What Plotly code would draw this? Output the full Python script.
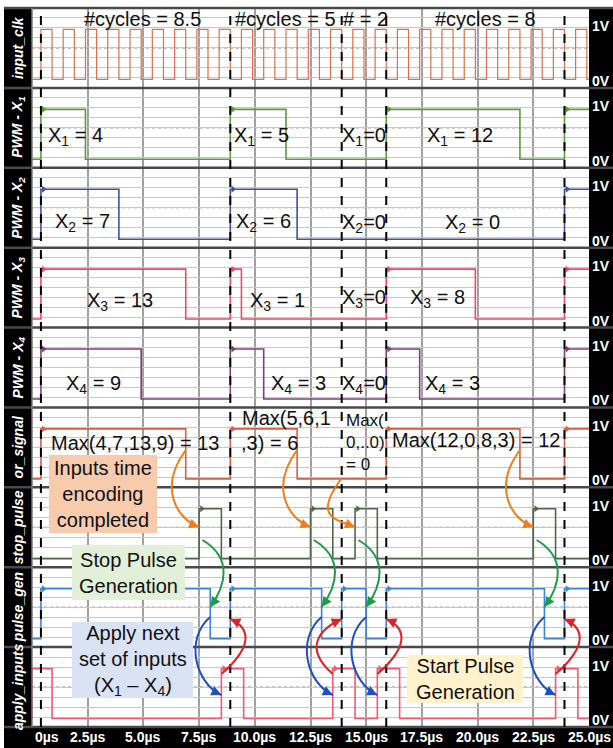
import plotly.graph_objects as go
from plotly.subplots import make_subplots

FONT = "Liberation Sans, Arial, sans-serif"

# ---------------- data ----------------
signal_labels = ["input_clk", "PWM - X<sub>1</sub>", "PWM - X<sub>2</sub>", "PWM - X<sub>3</sub>",
                 "PWM - X<sub>4</sub>", "or_signal", "stop_pulse", "pulse_gen", "apply_inputs"]
signal_colors = ["#d9714f", "#5b9b3a", "#41509c", "#f0476a", "#7b3f7f",
                 "#d4604a", "#50684a", "#3d84d6", "#f25c6e"]
cycle_start_us = [0.4, 8.9, 13.9, 15.9, 23.9]
x1_values = [4, 5, 0, 12]
x2_values = [7, 6, 0, 0]
x3_values = [13, 1, 0, 8]
x4_values = [9, 3, 0, 3]
us_per_count = 0.5
clk_rise_us = [0.4, 1.4, 2.4, 3.4, 4.4, 5.4, 6.4, 7.4, 8.4, 9.4, 10.4, 11.4, 12.4,
               13.4, 14.4, 15.4, 16.4, 17.4, 18.4, 19.4, 20.4, 21.4, 22.4, 23.4, 24.4]
clk_high_us = 0.5
stop_pulse_us = [(7.5, 8.5), (12.5, 13.5), (14.5, 15.5), (22.5, 23.5)]
pulse_gen_fall_us = [8.0, 13.0, 15.0, 23.0]
apply_inputs_us = [(0.0, 0.9), (8.5, 9.5), (13.5, 14.5), (15.5, 16.5), (23.5, 24.5)]
time_ticks_us = [0, 2.5, 5.0, 7.5, 10.0, 12.5, 15.0, 17.5, 20.0, 22.5, 25.0]
time_tick_labels = ["0µs", "2.5µs", "5.0µs", "7.5µs", "10.0µs", "12.5µs",
                    "15.0µs", "17.5µs", "20.0µs", "22.5µs", "25.0µs"]
t_end = 25.0

# ---------------- geometry helpers (page pixels) ----------------
W, H = 613, 748
X0, X1, Y0, Y1 = 32, 589, 8, 727          # plot area in page pixels
ML, MR, MT, MB = X0, W - X1, Y0, H - Y1
PW, PH = X1 - X0, Y1 - Y0


def pxx(px):
    return (px - X0) / PW


def pxy(py):
    return (Y1 - py) / PH


def dt(dpx):
    return dpx * t_end / PW


# ---------------- build signals ----------------
def pwm(values):
    iv = [(s, s + us_per_count * v) for s, v in zip(cycle_start_us, values) if v > 0]
    iv.append((cycle_start_us[-1], t_end))
    return iv


max_values = [max(a, b, c, d) for a, b, c, d in zip(x1_values, x2_values, x3_values, x4_values)]
signals = [
    [(r, r + clk_high_us) for r in clk_rise_us],
    pwm(x1_values), pwm(x2_values), pwm(x3_values), pwm(x4_values),
    pwm(max_values),
    stop_pulse_us,
    [(cycle_start_us[i], pulse_gen_fall_us[i]) for i in range(4)] + [(cycle_start_us[4], t_end)],
    apply_inputs_us,
]


def step_xy(intervals):
    xs, ys = [0.0], [0]
    for a, b in intervals:
        xs += [a, min(b, t_end)]
        ys += [1, 0 if b < t_end else 1]
    if xs[-1] < t_end:
        xs.append(t_end)
        ys.append(ys[-1])
    return xs, ys


NR = 9
fig = make_subplots(rows=NR, cols=1, shared_xaxes=True, vertical_spacing=0)
for i, iv in enumerate(signals):
    xs, ys = step_xy(iv)
    fig.add_trace(go.Scatter(x=xs, y=ys, mode="lines", line=dict(color=signal_colors[i],
                             width=1.2 if i == 0 else 1.6, shape="hv"),
                             hoverinfo="skip"), row=i + 1, col=1)
    if i > 0:
        rx = [a + 0.12 for a, b in iv if a > 0]
        fig.add_trace(go.Scatter(x=rx, y=[1] * len(rx), mode="markers",
                                 marker=dict(symbol="triangle-right", size=6, color=signal_colors[i]),
                                 hoverinfo="skip"), row=i + 1, col=1)

fig.update_xaxes(range=[0, t_end], tick0=0, dtick=2.5, showgrid=True, gridcolor="#a0a0a0",
                 gridwidth=1.6, showticklabels=False, zeroline=False, ticks="")
fig.update_yaxes(range=[-0.17, 1.43], tick0=0.03, dtick=0.2, showgrid=True, gridcolor="#c8c8c8",
                 gridwidth=1, showticklabels=False, zeroline=False, ticks="")

shapes = []
annotations = []


def note(text, x, y, size=20, color="#111111", **kw):
    d = dict(text=text, xref="paper", yref="paper", x=x, y=y, showarrow=False,
             xanchor="center", yanchor="middle", font=dict(size=size, color=color, family=FONT))
    d.update(kw)
    annotations.append(d)


# white page border (top / left)
shapes.append(dict(type="rect", xref="paper", yref="paper", x0=pxx(-2), x1=pxx(W + 2),
                   y0=pxy(Y0), y1=pxy(-2), fillcolor="white", line=dict(width=0), layer="above"))
shapes.append(dict(type="rect", xref="paper", yref="paper", x0=pxx(-2), x1=pxx(4),
                   y0=pxy(H + 2), y1=pxy(-2), fillcolor="white", line=dict(width=0), layer="above"))

# center dotted lines per row
for r in range(1, NR + 1):
    ya = "y" if r == 1 else f"y{r}"
    shapes.append(dict(type="line", xref="paper", yref=ya, x0=0, x1=1, y0=0.63, y1=0.63,
                       line=dict(color="#777777", width=1, dash="dot"), layer="below"))

# row separators
for k in range(0, NR + 1):
    shapes.append(dict(type="line", xref="paper", yref="paper", x0=pxx(4), x1=pxx(W),
                       y0=k / NR, y1=k / NR, line=dict(color="#4a4a4a", width=2.5)))
shapes.append(dict(type="line", xref="paper", yref="paper", x0=0, x1=0, y0=0, y1=1,
                   line=dict(color="#7a7a7a", width=1.5)))

# dashed cycle boundaries
for t in cycle_start_us:
    shapes.append(dict(type="line", xref="x", yref="paper", x0=t, x1=t, y0=0, y1=1,
                       line=dict(color="black", width=2, dash="dash")))

# left labels, right 1V/0V labels
for r in range(1, NR + 1):
    yc = 1 - (r - 0.5) / NR
    note(f"<b><i>{signal_labels[r - 1]}</i></b>", pxx(18), yc, size=14, color="white", textangle=-90)
    ya = "y" if r == 1 else f"y{r}"
    note("<b>1V</b>", pxx(601), 1.06, size=14, color="white", yref=ya)
    note("<b>0V</b>", pxx(601), -0.03, size=14, color="white", yref=ya)

# bottom time labels
for j, (tv, tl) in enumerate(zip(time_ticks_us, time_tick_labels)):
    note(f"<b>{tl}</b>", tv, pxy(737), size=14, color="white", xref="x",
         xanchor="left" if j == 0 else "center", xshift=1 if j == 0 else 0)

# text labels
texts = [
    ("#cycles = 8.5", 142, 19), ("#cycles = 5", 285, 19), ("# = 2", 365, 19), ("#cycles = 8", 485, 19),
    ("X<sub>1</sub> = 4", 75, 137), ("X<sub>1</sub> = 5", 261, 137), ("X<sub>1</sub>=0", 364, 137),
    ("X<sub>1</sub> = 12", 460, 137),
    ("X<sub>2</sub> = 7", 82, 223), ("X<sub>2</sub> = 6", 263, 223), ("X<sub>2</sub>=0", 364, 224),
    ("X<sub>2</sub> = 0", 472, 224),
    ("X<sub>3</sub> = 13", 120, 301), ("X<sub>3</sub> = 1", 277, 301), ("X<sub>3</sub>=0", 364, 299),
    ("X<sub>3</sub> = 8", 437, 299),
    ("X<sub>4</sub> = 9", 93, 385), ("X<sub>4</sub> = 3", 298, 385), ("X<sub>4</sub>=0", 364, 385),
    ("X<sub>4</sub> = 3", 452, 385),
    ("Max(4,7,13,9) = 13", 135, 443), ("Max(5,6,1", 286, 418), (",3) = 6", 269, 443),
    ("Max(12,0,8,3) = 12", 476, 440),
]
for tx, x, y in texts:
    note(tx, pxx(x), pxy(y))
note("Max(<br>0,..0)<br>= 0", pxx(344), pxy(442), size=17, xanchor="left", align="left")

# callout boxes
boxes = [
    ("Inputs time<br>encoding<br>completed", (49, 455, 157, 533), "#f8cbad"),
    ("Stop Pulse<br>Generation", (72, 545, 185, 600), "#e2efd9"),
    ("Apply next<br>set of inputs<br>(X<sub>1</sub> – X<sub>4</sub>)", (72, 622, 193, 698), "#dae3f3"),
    ("Start Pulse<br>Generation", (407, 655, 523, 703), "#fff2cc"),
]
for tx, (bx0, by0, bx1, by1), col in boxes:
    shapes.append(dict(type="rect", xref="paper", yref="paper", x0=pxx(bx0), x1=pxx(bx1), y0=pxy(by1),
                       y1=pxy(by0), fillcolor=col, line=dict(width=0), layer="above"))
    note(tx, pxx((bx0 + bx1) / 2), pxy((by0 + by1) / 2), size=20)


# curved arrows linked to signal events
def curve(t0, py0, t1, py1, c1, c2, color):
    p = (f"M {t0},{pxy(py0)} C {t0 + dt(c1[0])},{pxy(py0 + c1[1])} "
         f"{t1 + dt(c2[0])},{pxy(py1 + c2[1])} {t1},{pxy(py1)}")
    shapes.append(dict(type="path", xref="x", yref="paper", path=p, line=dict(color=color, width=2)))
    n = (c2[0] ** 2 + c2[1] ** 2) ** 0.5
    annotations.append(dict(text="", xref="x", yref="paper", x=t1, y=pxy(py1), showarrow=True,
                            ax=c2[0] / n * 9, ay=c2[1] / n * 9, arrowhead=2, arrowsize=1,
                            arrowwidth=2, arrowcolor=color, standoff=0))


red_side = [1, -1, 1, 1]
for k in range(4):
    or_fall = cycle_start_us[k] + us_per_count * max_values[k]
    curve(or_fall, 450 if max_values[k] > 0 else 478, stop_pulse_us[k][0], 527,
          (-28, 38), (-22, -8), "#f07d1a")
    curve(stop_pulse_us[k][0] + 0.15, 540, pulse_gen_fall_us[k], 607, (30, 18), (16, -22), "#1f9a48")
    curve(pulse_gen_fall_us[k], 617, apply_inputs_us[k + 1][0], 695, (-26, 22), (-26, -12), "#1f4fc4")
    s = red_side[k]
    curve(apply_inputs_us[k + 1][0], 674, cycle_start_us[k + 1], 619, (30 * s, -26), (22 * s, 10), "#d9252a")

fig.update_layout(width=W, height=H, margin=dict(l=ML, r=MR, t=MT, b=MB),
                  paper_bgcolor="black", plot_bgcolor="white", showlegend=False,
                  font=dict(family=FONT), shapes=shapes, annotations=annotations)

fig.write_html("out.html", config={"displayModeBar": False},
               post_script="document.body.style.margin='0px';document.body.style.overflow='hidden';")
